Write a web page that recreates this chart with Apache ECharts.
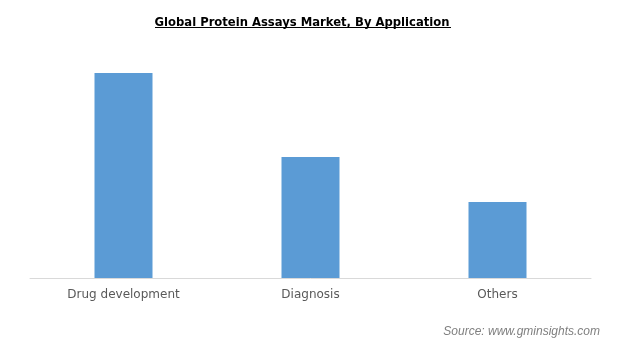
<!DOCTYPE html>
<html><head><meta charset="utf-8">
<script src="https://cdn.jsdelivr.net/npm/echarts@6/dist/echarts.min.js"></script>
<style>html,body{margin:0;padding:0;background:#fff}#c{width:626px;height:357px}</style>
</head><body><div id="c"></div>
<script>
const categories = ["Drug development", "Diagnosis", "Others"];
const marketValues = [2.05, 1.21, 0.76];
const titleText = "Global Protein Assays Market, By Application";
const sourceText = "Source: www.gminsights.com";

const chart = echarts.init(document.getElementById('c'), null, {renderer: 'canvas'});
chart.setOption({
  animation: false,
  backgroundColor: '#ffffff',
  title: {
    text: titleText,
    left: 297, top: 12, textAlign: 'center',
    textStyle: {fontFamily: 'DejaVu Sans', fontWeight: 'bold', fontSize: 11.6, color: '#000'}
  },
  graphic: [
    {type: 'line', shape: {x1: 155, y1: 27.5, x2: 451, y2: 27.5}, style: {stroke: '#000', lineWidth: 1}},
    {type: 'text', right: 26, top: 326, style: {text: sourceText, fontFamily: 'Liberation Sans', fontStyle: 'italic', fontSize: 12, fill: '#7f7f7f'}}
  ],
  grid: {left: 30, right: 35, top: 60, bottom: 79},
  xAxis: {
    type: 'category', data: categories,
    axisLine: {lineStyle: {color: '#d9d9d9', width: 1}},
    axisTick: {show: false},
    axisLabel: {color: '#595959', fontFamily: 'DejaVu Sans', fontSize: 12, margin: 11}
  },
  yAxis: {type: 'value', min: 0, max: 2.18, show: false, splitLine: {show: false}},
  series: [{
    type: 'bar', data: marketValues, barWidth: 58,
    itemStyle: {color: '#5b9bd5'}
  }]
});
</script></body></html>
